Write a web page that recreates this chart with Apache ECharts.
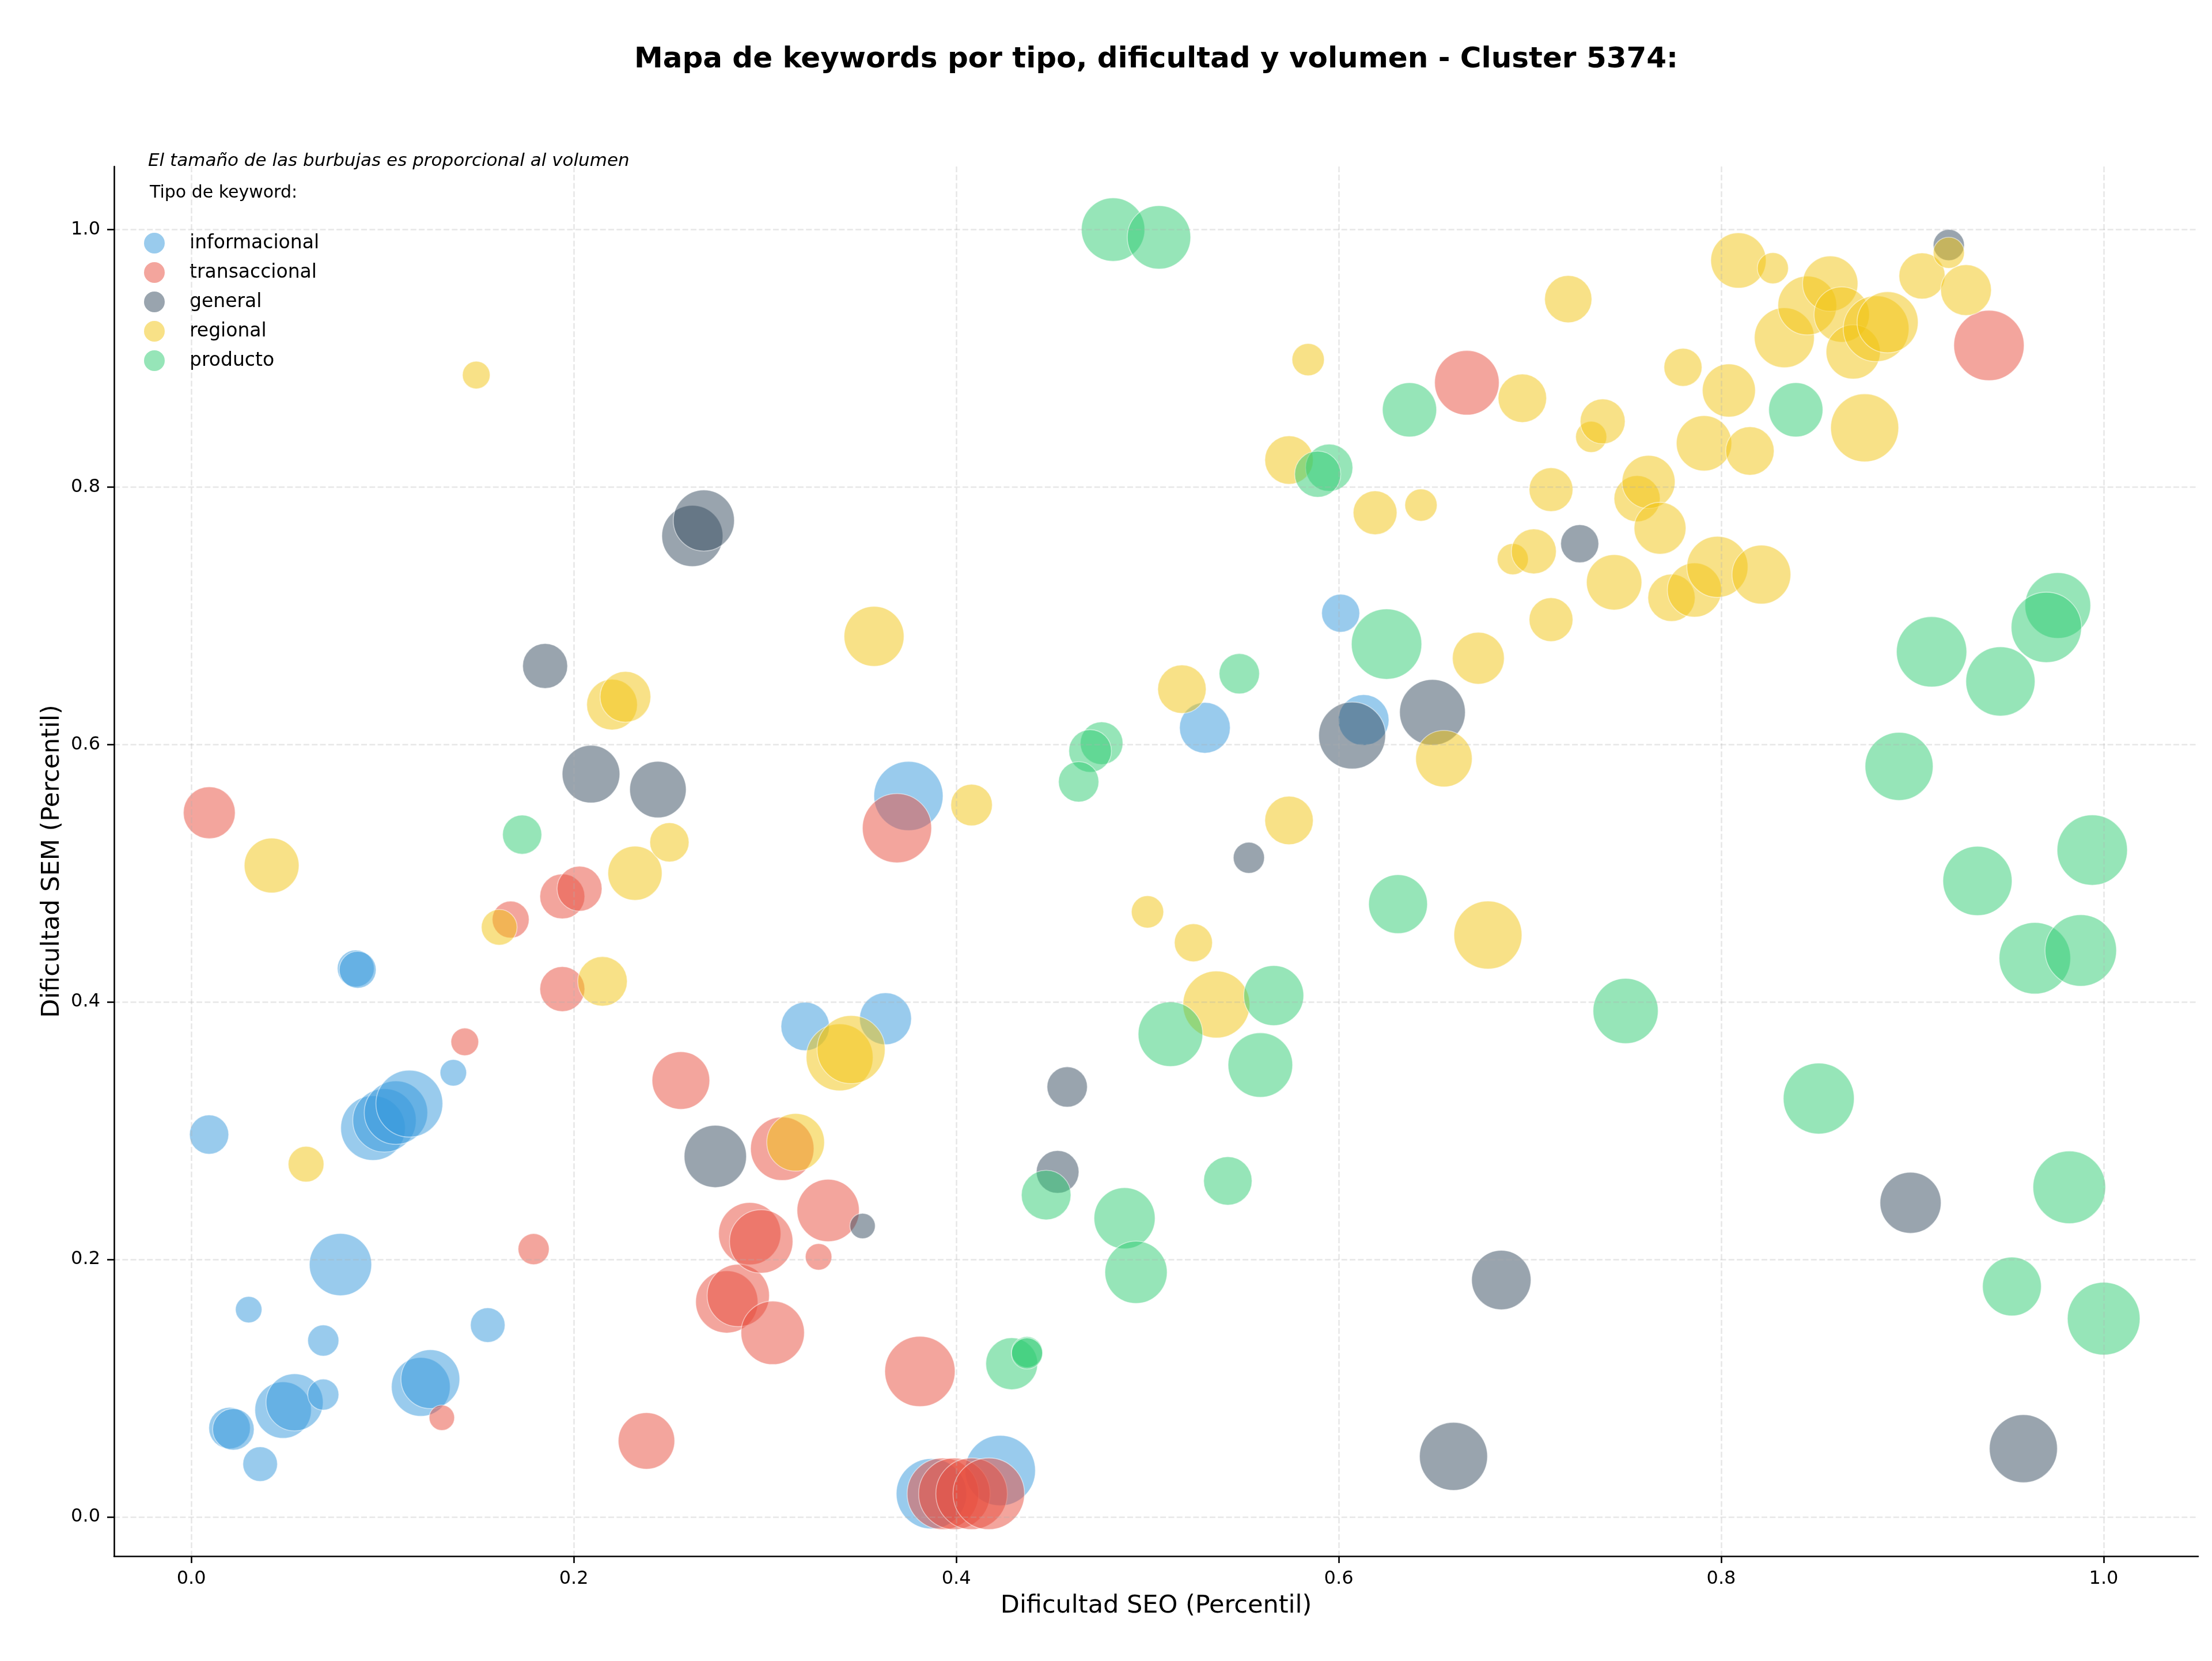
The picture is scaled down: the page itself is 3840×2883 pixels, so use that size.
<!DOCTYPE html>
<html><head><meta charset="utf-8">
<script src="https://cdn.jsdelivr.net/npm/echarts@6/dist/echarts.min.js"></script>
<style>html,body{margin:0;padding:0;background:#fff}#chart{width:3840px;height:2883px}</style>
</head><body><div id="chart"></div>
<script>
// ---- data ----
const titleText = 'Mapa de keywords por tipo, dificultad y volumen - Cluster 5374:';
const noteText = 'El tamaño de las burbujas es proporcional al volumen';
const legendTitle = 'Tipo de keyword:';
const xName = 'Dificultad SEO (Percentil)';
const yName = 'Dificultad SEM (Percentil)';
const categories = ['informacional', 'transaccional', 'general', 'regional', 'producto'];
const tickValues = [0, 0.2, 0.4, 0.6, 0.8, 1.0];

// [dificultad SEO, dificultad SEM, volumen]
const informacional = [
  [0.0093,0.297,289],[0.030,0.161,132],[0.020,0.069,324],[0.022,0.068,324],[0.036,0.041,225],
  [0.048,0.083,600],[0.054,0.089,613],[0.069,0.095,182],[0.069,0.137,182],[0.078,0.196,729],
  [0.086,0.426,256],[0.087,0.425,256],[0.095,0.302,784],[0.101,0.308,756],[0.107,0.314,756],
  [0.114,0.321,841],[0.120,0.101,650],[0.125,0.107,650],[0.137,0.345,132],[0.155,0.149,225],
  [0.321,0.381,441],[0.363,0.387,506],[0.375,0.560,900],[0.387,0.018,930],[0.423,0.036,930],
  [0.601,0.702,272],[0.530,0.613,484],[0.613,0.619,484]
];
const transaccional = [
  [0.0094,0.547,506],[0.143,0.369,144],[0.131,0.077,121],[0.167,0.464,256],[0.194,0.482,380],
  [0.203,0.488,380],[0.194,0.410,380],[0.179,0.208,182],[0.238,0.059,600],[0.256,0.339,625],
  [0.280,0.167,729],[0.286,0.172,729],[0.292,0.220,729],[0.298,0.214,756],[0.304,0.143,756],
  [0.309,0.286,756],[0.328,0.202,132],[0.333,0.238,729],[0.369,0.535,900],[0.381,0.113,930],
  [0.393,0.018,961],[0.399,0.018,961],[0.408,0.018,961],[0.417,0.018,961],[0.667,0.881,784],
  [0.940,0.910,930]
];
const general = [
  [0.185,0.661,380],[0.209,0.577,625],[0.244,0.565,600],[0.262,0.762,702],[0.268,0.774,702],
  [0.274,0.280,729],[0.351,0.226,121],[0.453,0.268,342],[0.458,0.334,306],[0.553,0.512,182],
  [0.607,0.607,841],[0.649,0.625,812],[0.660,0.047,870],[0.685,0.184,663],[0.726,0.756,272],
  [0.899,0.244,702],[0.919,0.988,182],[0.958,0.053,870]
];
const regional = [
  [0.149,0.887,144],[0.042,0.506,564],[0.060,0.274,240],[0.161,0.458,240],[0.215,0.416,462],
  [0.232,0.500,552],[0.250,0.524,289],[0.220,0.631,484],[0.227,0.637,484],[0.316,0.291,625],
  [0.339,0.357,841],[0.345,0.363,870],[0.357,0.684,676],[0.408,0.553,324],[0.500,0.470,196],
  [0.524,0.446,272],[0.536,0.398,841],[0.518,0.643,441],[0.574,0.541,441],[0.574,0.821,441],
  [0.584,0.899,196],[0.619,0.780,361],[0.643,0.786,196],[0.655,0.589,600],[0.673,0.667,506],
  [0.678,0.452,870],[0.696,0.869,441],[0.691,0.744,182],[0.702,0.750,380],[0.711,0.798,361],
  [0.711,0.697,361],[0.720,0.946,420],[0.732,0.839,182],[0.738,0.851,380],[0.744,0.726,576],
  [0.756,0.791,400],[0.762,0.804,529],[0.768,0.768,506],[0.774,0.714,420],[0.780,0.893,272],
  [0.786,0.720,552],[0.791,0.834,576],[0.798,0.738,702],[0.804,0.875,529],[0.809,0.976,576],
  [0.815,0.828,441],[0.821,0.732,650],[0.827,0.970,182],[0.833,0.916,676],[0.845,0.941,650],
  [0.857,0.958,576],[0.863,0.934,576],[0.869,0.905,552],[0.875,0.846,870],[0.881,0.923,812],
  [0.887,0.928,702],[0.905,0.964,400],[0.919,0.982,182],[0.928,0.953,484]
];
const producto = [
  [0.482,1.000,756],[0.506,0.994,756],[0.637,0.860,552],[0.595,0.815,420],[0.589,0.810,400],
  [0.839,0.860,552],[0.625,0.678,930],[0.548,0.655,306],[0.476,0.601,342],[0.470,0.595,342],
  [0.464,0.571,306],[0.173,0.530,289],[0.631,0.476,650],[0.566,0.405,676],[0.512,0.375,784],
  [0.559,0.351,784],[0.447,0.250,462],[0.488,0.232,702],[0.542,0.261,441],[0.494,0.190,729],
  [0.429,0.119,506],[0.437,0.128,182],[0.437,0.127,182],[0.976,0.708,812],[0.970,0.691,930],
  [0.910,0.672,930],[0.946,0.649,900],[0.893,0.583,870],[0.994,0.518,930],[0.934,0.494,900],
  [0.964,0.434,961],[0.988,0.440,961],[0.750,0.393,798],[0.851,0.325,946],[0.982,0.256,992],
  [0.952,0.179,650],[1.000,0.154,992]
];
const seriesData = [informacional, transaccional, general, regional, producto];

// ---- style ----
const palette = ['#3498db', '#e74c3c', '#34495e', '#f1c40f', '#2ecc71'];
const FONT = 'DejaVu Sans';
const gridLine = { show: true, lineStyle: { color: '#b0b0b0', opacity: 0.3, width: 2.6, type: [10, 4.3] } };
const axisCommon = {
  type: 'value',
  z: 5,
  axisLine: { show: true, onZero: false, lineStyle: { color: '#000', width: 2.6 } },
  axisTick: { show: true, inside: false, length: 12, lineStyle: { color: '#000', width: 2.6 }, customValues: tickValues },
  axisLabel: { show: true, margin: 24, fontSize: 32, fontFamily: FONT, color: '#000',
               customValues: tickValues, formatter: v => Number(v).toFixed(1) },
  splitLine: gridLine,
  nameLocation: 'middle',
  nameTextStyle: { fontSize: 43, fontFamily: FONT, color: '#000' }
};

const chart = echarts.init(document.getElementById('chart'), null, { renderer: 'canvas', width: 3840, height: 2883 });
chart.setOption({
  animation: false,
  backgroundColor: '#fff',
  grid: { left: 198, top: 289, width: 3618, height: 2412, containLabel: false },
  xAxis: Object.assign({}, axisCommon, { min: -0.0404, max: 1.0494, name: xName, nameGap: 65 }),
  yAxis: Object.assign({}, axisCommon, { min: -0.0305, max: 1.049, name: yName, nameGap: 84, nameRotate: 90 }),
  legend: {
    orient: 'vertical', left: 245, top: 399,
    itemWidth: 36, itemHeight: 36, itemGap: 15,
    icon: 'circle',
    itemStyle: { borderWidth: 0, opacity: 0.5 },
    textStyle: { fontSize: 33, fontFamily: FONT, color: '#000', lineHeight: 36, padding: [0, 0, 0, 38] },
    data: categories,
    selectedMode: false
  },
  graphic: [
    { type: 'text', x: 2007, y: 104, silent: true,
      style: { text: titleText, textAlign: 'center', textVerticalAlign: 'middle',
               font: 'bold 50px "DejaVu Sans"', fill: '#000' } },
    { type: 'text', x: 257, y: 280, silent: true,
      style: { text: noteText, textAlign: 'left', textVerticalAlign: 'middle',
               font: 'italic 31px "DejaVu Sans"', fill: '#000' } },
    { type: 'text', x: 260, y: 335, silent: true,
      style: { text: legendTitle, textAlign: 'left', textVerticalAlign: 'middle',
               font: '30px "DejaVu Sans"', fill: '#000' } }
  ],
  series: categories.map((name, i) => ({
    name: name,
    type: 'scatter',
    data: seriesData[i],
    symbol: 'circle',
    symbolSize: v => 4 * Math.sqrt(v[2]),
    itemStyle: { color: palette[i], opacity: 0.5, borderColor: '#ffffff', borderWidth: 1.6 },
    emphasis: { disabled: true },
    z: 2
  }))
});
</script></body></html>
